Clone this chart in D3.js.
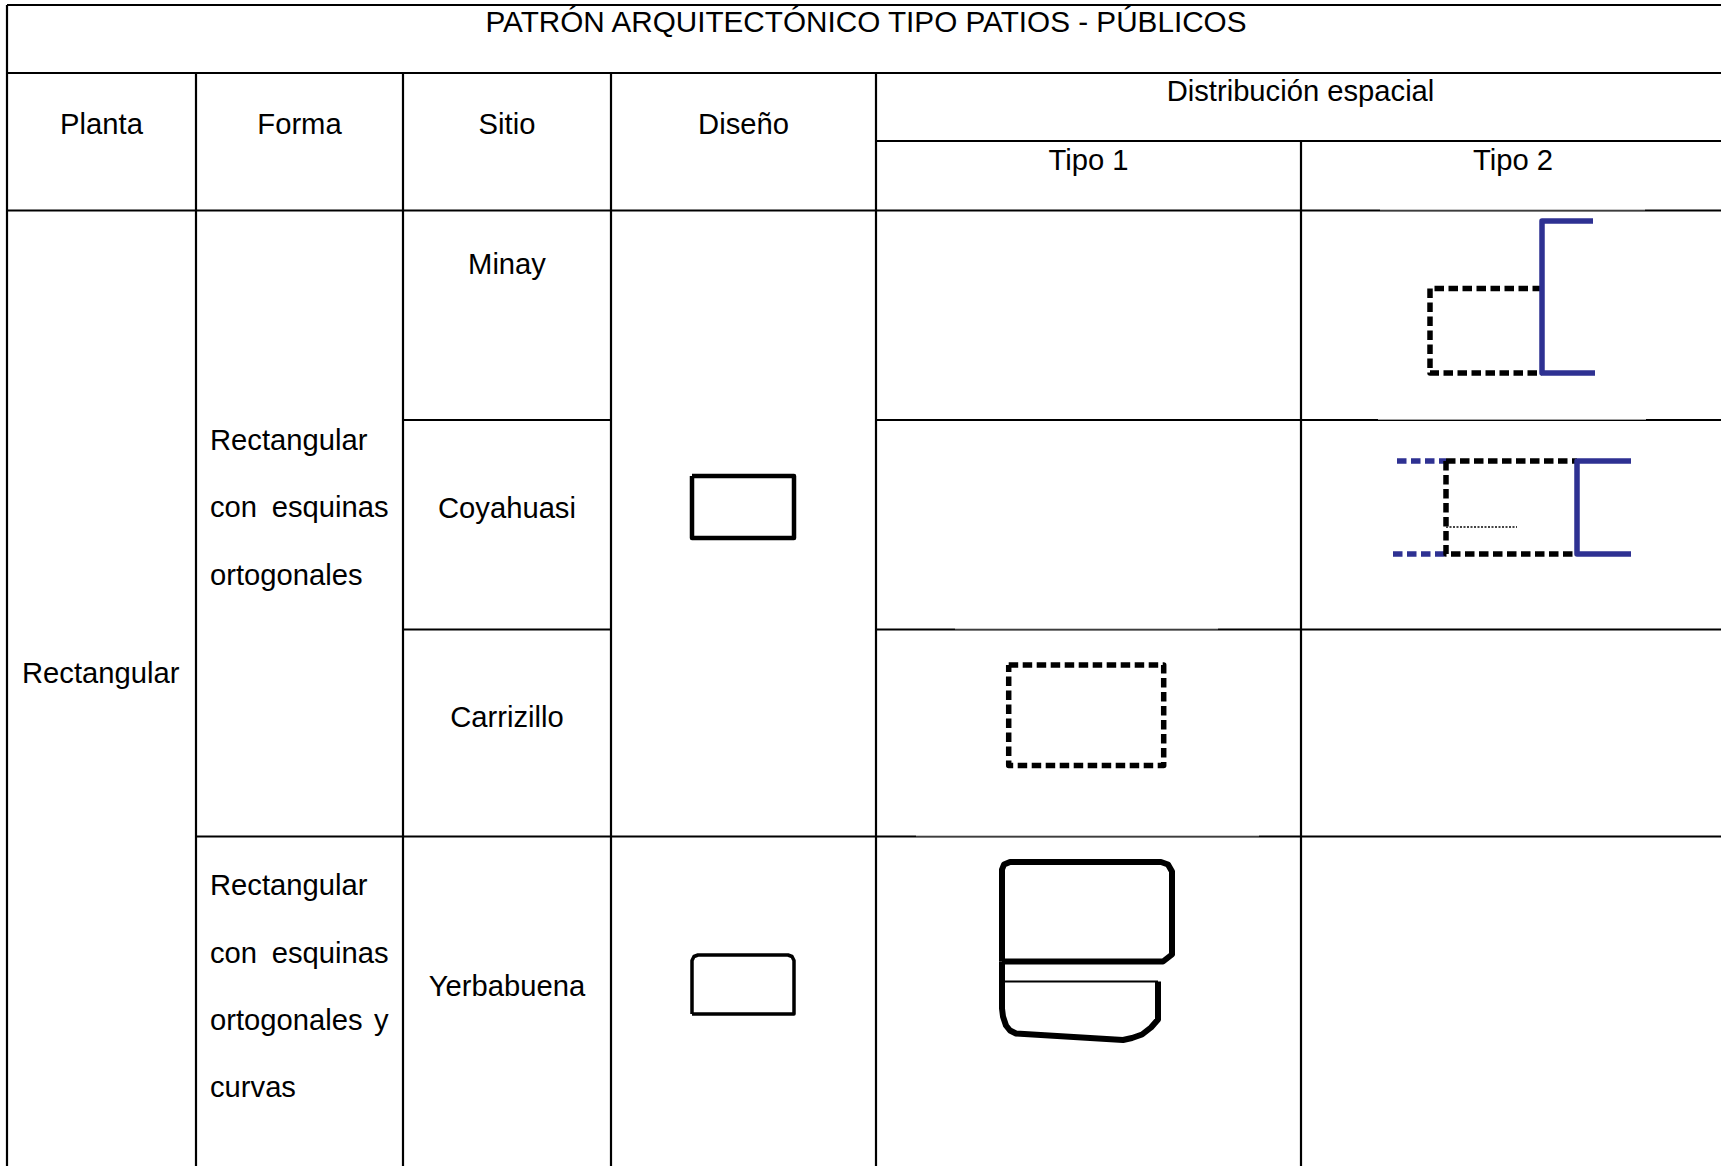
<!DOCTYPE html>
<html lang="es">
<head>
<meta charset="utf-8">
<title>Patrón arquitectónico tipo patios - públicos</title>
<script src="https://cdn.jsdelivr.net/npm/d3@7"></script>
<style>
  html, body { margin: 0; background: #fff; overflow: hidden; }
  svg { display: block; }
  text { font-family: "Liberation Sans", Arial, sans-serif; font-size: 29.2px; fill: #000; }
  text.titulo { font-size: 29.7px; }
</style>
</head>
<body>
<svg id="tabla" width="1721" height="1166"></svg>
<script>
// --- contenido de la tabla ---
const titulo = "PATRÓN ARQUITECTÓNICO TIPO PATIOS - PÚBLICOS";
const encabezados = ["Planta", "Forma", "Sitio", "Diseño"];
const grupoDistribucion = "Distribución espacial";
const tiposDistribucion = ["Tipo 1", "Tipo 2"];
const plantas = ["Rectangular"];
const sitios = ["Minay", "Coyahuasi", "Carrizillo", "Yerbabuena"];
const formaOrtogonal = ["Rectangular", "con esquinas", "ortogonales"];
const formaCurvas = ["Rectangular", "con esquinas", "ortogonales y", "curvas"];

// --- croquis, en unidades locales de cada celda ---
const minayMuro = [[292, 10.5], [241, 10.5], [241, 162.5], [294, 162.5]];
const minayPatio = [[241, 78], [129, 78], [129, 162.5], [241, 162.5]];
const coyaMuro = [[330, 41], [276, 41], [276, 134], [330, 134]];
const coyaAbiertoA = [[96, 41], [145, 41]];
const coyaAbiertoB = [[92, 134], [145, 134]];
const coyaPatioA = [[145, 41], [276, 41]];
const coyaPatioB = [[145, 41], [145, 134], [276, 134]];
const coyaDivision = [[145, 107], [216, 107]];
const carrizilloPatio = [[132.7, 35.5], [287.7, 35.5], [287.7, 136], [132.7, 136], [132.7, 35.5]];
const yerbaSuperior = [[126, 125], [126, 33], [128, 28], [134, 25.5], [285, 25.5], [292, 28], [296, 35],
  [296, 118], [287, 125], [126, 125]];
const yerbaInferior = [[126, 125], [126, 172], [127, 180], [130, 189], [134, 194], [140, 197], [247, 203.5], [256, 201.5],
  [266, 198], [275, 191], [282, 183], [282, 145]];
const yerbaDivision = [[126, 145], [282, 145]];
const disenoOrtogonal = [[81, 265.5], [183, 265.5], [183, 327.5], [81, 327.5], [81, 265.5]];
const disenoCurvo = [[81, 177.5], [81, 124], [83, 120], [87, 118.5], [177, 118.5], [181, 120], [183, 124],
  [183, 177.5], [81, 177.5]];

// --- trama de la tabla: cada nombre es el borde izq./sup. de su columna o fila ---
const columnas = ["planta", "forma", "sitio", "diseno", "tipo1", "tipo2", "finCol"];
const filas = ["titulo", "cabecera", "subcabecera", "minay", "coyahuasi", "carrizillo", "yerbabuena", "finFila"];

const xCol = d3.scaleOrdinal().domain(columnas).range([7, 196, 403, 611, 876, 1301, 1725]);
const yFila = d3.scaleOrdinal().domain(filas).range([5, 73, 141, 210.5, 420, 629.5, 836.5, 1170]);

const svg = d3.select("#tabla");
const colorMuro = "#2e3192";

// reglas: [fila, desde, hasta] y [columna, desde]
const horizontales = [
  ["titulo", "planta", "finCol"], ["cabecera", "planta", "finCol"], ["subcabecera", "tipo1", "finCol"],
  ["minay", "planta", "finCol"],
  ["coyahuasi", "sitio", "diseno"], ["coyahuasi", "tipo1", "finCol"],
  ["carrizillo", "sitio", "diseno"], ["carrizillo", "tipo1", "finCol"],
  ["yerbabuena", "forma", "finCol"]
];
const verticales = [
  ["planta", "titulo"], ["forma", "cabecera"], ["sitio", "cabecera"], ["diseno", "cabecera"],
  ["tipo1", "cabecera"], ["tipo2", "subcabecera"]
];

svg.append("g").selectAll("line")
  .data(horizontales)
  .join("line")
  .attr("x1", d => xCol(d[1])).attr("x2", d => xCol(d[2]))
  .attr("y1", d => yFila(d[0])).attr("y2", d => yFila(d[0]))
  .attr("stroke", "#000").attr("stroke-width", 2.2);

svg.append("g").selectAll("line")
  .data(verticales)
  .join("line")
  .attr("x1", d => xCol(d[0])).attr("x2", d => xCol(d[0]))
  .attr("y1", d => yFila(d[1])).attr("y2", yFila("finFila"))
  .attr("stroke", "#000").attr("stroke-width", 2.2);

// tramos en que el recorte pegado adelgaza la regla
const blancos = [[1380, 1645, "minay"], [1378, 1646, "coyahuasi"], [955, 1218, "carrizillo"], [916, 1259, "yerbabuena"]];
svg.append("g").selectAll("line")
  .data(blancos)
  .join("line")
  .attr("x1", d => d[0]).attr("x2", d => d[1])
  .attr("y1", d => yFila(d[2]) - 0.7).attr("y2", d => yFila(d[2]) - 0.7)
  .attr("stroke", "#fff").attr("stroke-width", 0.8);

// --- textos ---
const centro = (a, b) => (xCol(a) + xCol(b)) / 2;
function etiqueta(txt, x, y, anchor = "middle") {
  return svg.append("text").attr("x", x).attr("y", y).attr("text-anchor", anchor).text(txt);
}

etiqueta(titulo, centro("planta", "finCol"), 32).attr("class", "titulo");
encabezados.forEach((h, i) => etiqueta(h, centro(columnas[i], columnas[i + 1]), 134));
etiqueta(grupoDistribucion, centro("tipo1", "finCol"), 101);
tiposDistribucion.forEach((t, i) => etiqueta(t, centro(columnas[4 + i], columnas[5 + i]), 170));
etiqueta(plantas[0], centro("planta", "forma") - 0.8, 683);

const baseSitio = [274, 518, 727, 996];
sitios.forEach((s, i) => etiqueta(s, centro("sitio", "diseno"), baseSitio[i]));

// texto justificado: primera palabra al margen izq., ultima al margen der.
function parrafo(lineas, bases) {
  const izq = xCol("forma") + 14, der = xCol("sitio") - 14.5;
  lineas.forEach((ln, i) => {
    const pal = ln.split(" ");
    if (pal.length === 1) {
      etiqueta(ln, izq, bases[i], "start");
    } else {
      etiqueta(pal[0], izq, bases[i], "start");
      etiqueta(pal[1], der, bases[i], "end");
    }
  });
}
parrafo(formaOrtogonal, [450, 517, 585]);
parrafo(formaCurvas, [895, 963, 1030, 1097]);

// --- croquis ---
// cada celda tiene sus propias escalas: unidades locales -> pagina
function escalas(col, colSig, fila) {
  const ancho = xCol(colSig) - xCol(col);
  return {
    x: d3.scaleLinear().domain([0, ancho]).range([xCol(col), xCol(colSig)]),
    y: d3.scaleLinear().domain([0, 100]).range([yFila(fila), yFila(fila) + 100])
  };
}
function trazo(esc, puntos, color, grueso, raya) {
  const linea = d3.line().x(d => esc.x(d[0])).y(d => esc.y(d[1]));
  svg.append("path")
    .datum(puntos)
    .attr("d", linea)
    .attr("fill", "none")
    .attr("stroke", color)
    .attr("stroke-width", grueso)
    .attr("stroke-linejoin", "round")
    .attr("stroke-dasharray", raya || null);
}

const celdaMinay = escalas("tipo2", "finCol", "minay");
const celdaCoya = escalas("tipo2", "finCol", "coyahuasi");
const celdaCarr = escalas("tipo1", "tipo2", "carrizillo");
const celdaYerba = escalas("tipo1", "tipo2", "yerbabuena");
const celdaDisenoA = escalas("diseno", "tipo1", "minay");
const celdaDisenoB = escalas("diseno", "tipo1", "yerbabuena");

trazo(celdaMinay, minayPatio, "#000", 5.5, "9.5 4.5");
trazo(celdaMinay, minayMuro, colorMuro, 5.5);

trazo(celdaCoya, coyaAbiertoA, colorMuro, 5.5, "9.5 4.5");
trazo(celdaCoya, coyaAbiertoB, colorMuro, 5.5, "9.5 4.5");
trazo(celdaCoya, coyaPatioA, "#000", 5.5, "9.5 4.5");
trazo(celdaCoya, coyaPatioB, "#000", 5.5, "9.5 4.5");
trazo(celdaCoya, coyaDivision, "#444", 2, "2 1.5");
trazo(celdaCoya, coyaMuro, colorMuro, 5.5);

trazo(celdaCarr, carrizilloPatio, "#000", 5.5, "9.5 4.5");

trazo(celdaYerba, yerbaSuperior, "#000", 6);
trazo(celdaYerba, yerbaInferior, "#000", 6);
trazo(celdaYerba, yerbaDivision, "#000", 2.2);

trazo(celdaDisenoA, disenoOrtogonal, "#000", 4.5);
trazo(celdaDisenoB, disenoCurvo, "#000", 3.5);
</script>
</body>
</html>
